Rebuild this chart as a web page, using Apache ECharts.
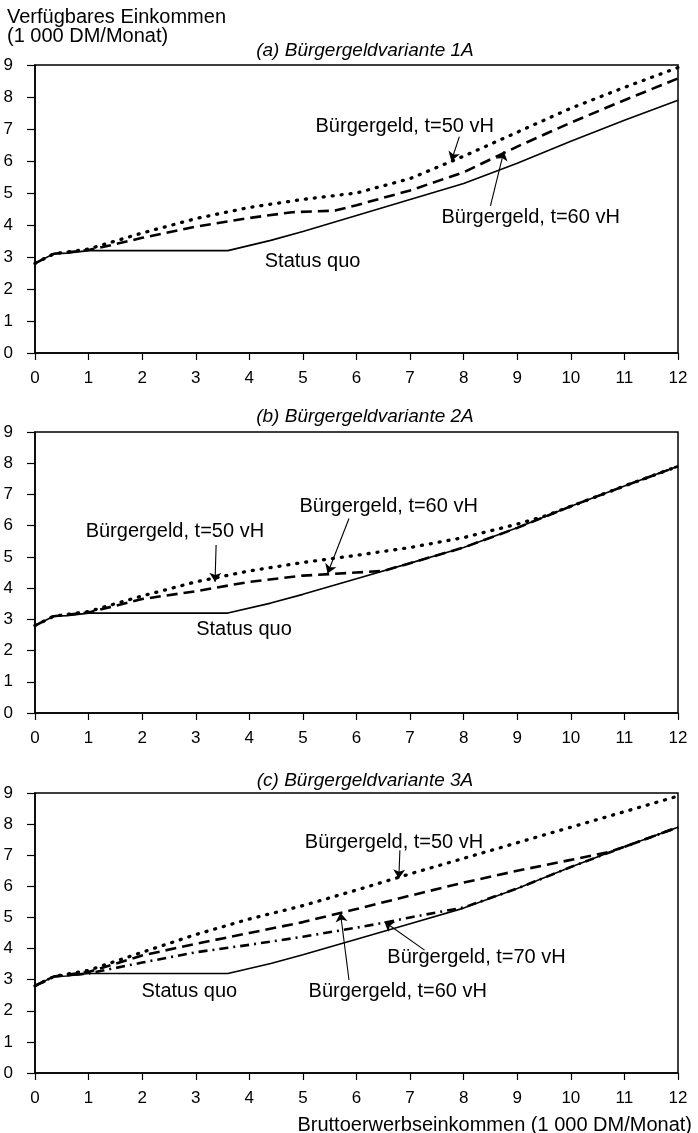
<!DOCTYPE html>
<html>
<head>
<meta charset="utf-8">
<script src="https://cdn.jsdelivr.net/npm/echarts@6/dist/echarts.min.js"></script>
<style>
  html, body { margin: 0; padding: 0; background: #fff; }
  #chart { width: 698px; height: 1133px; }
</style>
</head>
<body>
<div id="chart"></div>
<script>
// Status quo (same in all three panels)
const statusQuo = [[0,2.8],[0.35,3.1],[0.6,3.12],[1,3.2],[3.6,3.2],[4.4,3.52],[5,3.8],[6,4.3],[7,4.8],[8,5.3],[9,5.93],[10,6.62],[11,7.27],[12,7.9]];

// (a) Variante 1A
const a50 = [[0,2.8],[0.35,3.1],[1,3.25],[1.5,3.5],[2,3.75],[3,4.2],[4,4.55],[5,4.8],[6,5.0],[7,5.45],[8,6.15],[9,6.9],[10,7.65],[11,8.3],[12,8.92]];
const a60 = [[0,2.8],[0.35,3.1],[1,3.22],[1.5,3.4],[2,3.6],[3,3.95],[4,4.22],[4.8,4.4],[5.6,4.45],[6,4.62],[7,5.08],[8,5.65],[9,6.45],[10,7.2],[11,7.9],[12,8.58]];

// (b) Variante 2A
const b50 = [[0,2.8],[0.35,3.1],[1,3.25],[2,3.75],[3,4.2],[4,4.55],[5,4.82],[6,5.05],[7,5.3],[8,5.62],[9,6.05],[9.5,6.3],[10,6.62],[11,7.27],[12,7.9]];
const b60 = [[0,2.8],[0.35,3.1],[1,3.22],[2,3.65],[3,3.9],[4,4.2],[5,4.4],[5.5,4.45],[6,4.5],[6.5,4.55],[7,4.8],[8,5.3],[9,5.93],[10,6.62],[11,7.27],[12,7.9]];

// (c) Variante 3A
const c50 = [[0,2.8],[0.35,3.1],[1,3.3],[2,3.88],[3,4.45],[4,4.95],[5,5.38],[6,5.88],[7,6.4],[8,6.9],[9,7.4],[10,7.9],[11,8.4],[12,8.9]];
const c60 = [[0,2.8],[0.35,3.1],[1,3.25],[2,3.78],[3,4.15],[4,4.5],[5,4.85],[6,5.27],[7,5.7],[8,6.12],[9,6.5],[10,6.85],[10.7,7.1],[11,7.27],[12,7.9]];
const c70 = [[0,2.8],[0.35,3.1],[1,3.2],[2,3.55],[3,3.88],[4,4.12],[5,4.38],[6,4.67],[6.6,4.86],[7,5.0],[8,5.32],[9,5.93],[10,6.62],[11,7.27],[12,7.9]];

const panelTitles = ['(a) Bürgergeldvariante 1A', '(b) Bürgergeldvariante 2A', '(c) Bürgergeldvariante 3A'];
const yName = 'Verfügbares Einkommen\n(1 000 DM/Monat)';
const xName = 'Bruttoerwerbseinkommen (1 000 DM/Monat)';

// annotations: [x, y, text] and arrows [x1, y1, x2, y2] in data units
const notesA = [[6.9,7.07,'Bürgergeld, t=50 vH'],[9.25,4.25,'Bürgergeld, t=60 vH'],[5.18,2.85,'Status quo']];
const arrowsA = [[7.92,6.76,7.77,6.0],[8.5,4.6,8.75,6.3]];
const notesB = [[2.61,5.8,'Bürgergeld, t=50 vH'],[6.6,6.6,'Bürgergeld, t=60 vH'],[3.9,2.66,'Status quo']];
const arrowsB = [[3.38,5.38,3.36,4.2],[5.86,6.23,5.46,4.47]];
const notesC = [[6.7,7.42,'Bürgergeld, t=50 vH'],[8.24,3.71,'Bürgergeld, t=70 vH'],[6.77,2.62,'Bürgergeld, t=60 vH'],[2.88,2.62,'Status quo']];
const arrowsC = [[6.81,7.16,6.79,6.25],[7.27,3.95,6.52,4.86],[5.86,2.99,5.7,5.15]];

const FONT = '"Liberation Sans", Arial, Helvetica, sans-serif';
const grids = [
  {left: 35, right: 20, top: 65, height: 288},
  {left: 35, right: 20, top: 432, height: 281},
  {left: 35, right: 20, top: 793, height: 280}
];
const titleTops = [36, 402, 766];

const styles = {
  solid: {color: '#000', width: 1.6, type: 'solid'},
  dot: {color: '#000', width: 3.3, type: [1, 8], cap: 'round'},
  dash: {color: '#000', width: 2.6, type: [11, 6]},
  dashdot: {color: '#000', width: 2.6, type: [9, 5, 2, 5]}
};

function lineSeries(i, data, style, notes, arrows) {
  let s = {
    type: 'line', xAxisIndex: i, yAxisIndex: i, data: data,
    symbol: 'none', lineStyle: style, silent: true, z: 3
  };
  if (notes) {
    s.markPoint = {
      symbol: 'circle', symbolSize: 1, itemStyle: {color: 'rgba(0,0,0,0)'},
      label: {show: true, position: 'inside', formatter: '{b}', color: '#000', fontSize: 20, fontFamily: FONT},
      data: notes.map(n => ({name: n[2], coord: [n[0], n[1]]}))
    };
    s.markLine = {
      silent: true, symbol: ['none', 'arrow'], symbolSize: 9,
      lineStyle: {color: '#000', width: 1.1, type: 'solid'},
      label: {show: false},
      data: arrows.map(a => [{coord: [a[0], a[1]]}, {coord: [a[2], a[3]]}])
    };
  }
  return s;
}

const xAxes = grids.map((g, i) => ({
  type: 'value', gridIndex: i, min: 0, max: 12, interval: 1,
  axisLine: {show: true, lineStyle: {color: '#000', width: 1.5}},
  axisTick: {show: true, length: 7, lineStyle: {color: '#000', width: 1.2}},
  axisLabel: {color: '#000', fontSize: 17, fontFamily: FONT, margin: 17},
  splitLine: {show: false}
}));
const yAxes = grids.map((g, i) => ({
  type: 'value', gridIndex: i, min: 0, max: 9, interval: 1,
  axisLine: {show: true, lineStyle: {color: '#000', width: 1.5}},
  axisTick: {show: true, length: 8, lineStyle: {color: '#000', width: 1.2}},
  axisLabel: {color: '#000', fontSize: 17, fontFamily: FONT, margin: 22},
  splitLine: {show: false}
}));

const titles = panelTitles.map((t, i) => ({
  text: t, left: 360, top: titleTops[i], textAlign: 'center',
  textStyle: {fontSize: 19, fontStyle: 'italic', fontWeight: 'normal', color: '#000', fontFamily: FONT}
}));
titles.push({
  text: yName, left: 2, top: 3,
  textStyle: {fontSize: 20, fontWeight: 'normal', color: '#000', fontFamily: FONT, lineHeight: 19}
});
titles.push({
  text: xName, right: 1, top: 1110,
  textStyle: {fontSize: 20, fontWeight: 'normal', color: '#000', fontFamily: FONT}
});

const series = [
  lineSeries(0, statusQuo, styles.solid, notesA, arrowsA),
  lineSeries(0, a60, styles.dash),
  lineSeries(0, a50, styles.dot),
  lineSeries(1, statusQuo, styles.solid, notesB, arrowsB),
  lineSeries(1, b60, styles.dash),
  lineSeries(1, b50, styles.dot),
  lineSeries(2, statusQuo, styles.solid, notesC, arrowsC),
  lineSeries(2, c70, styles.dashdot),
  lineSeries(2, c60, styles.dash),
  lineSeries(2, c50, styles.dot)
];

const chart = echarts.init(document.getElementById('chart'));
chart.setOption({
  backgroundColor: '#fff',
  animation: false,
  title: titles,
  grid: grids.map(g => Object.assign({show: true, borderColor: '#000', borderWidth: 1.5, backgroundColor: 'transparent'}, g)),
  xAxis: xAxes,
  yAxis: yAxes,
  series: series
});
</script>
</body>
</html>
